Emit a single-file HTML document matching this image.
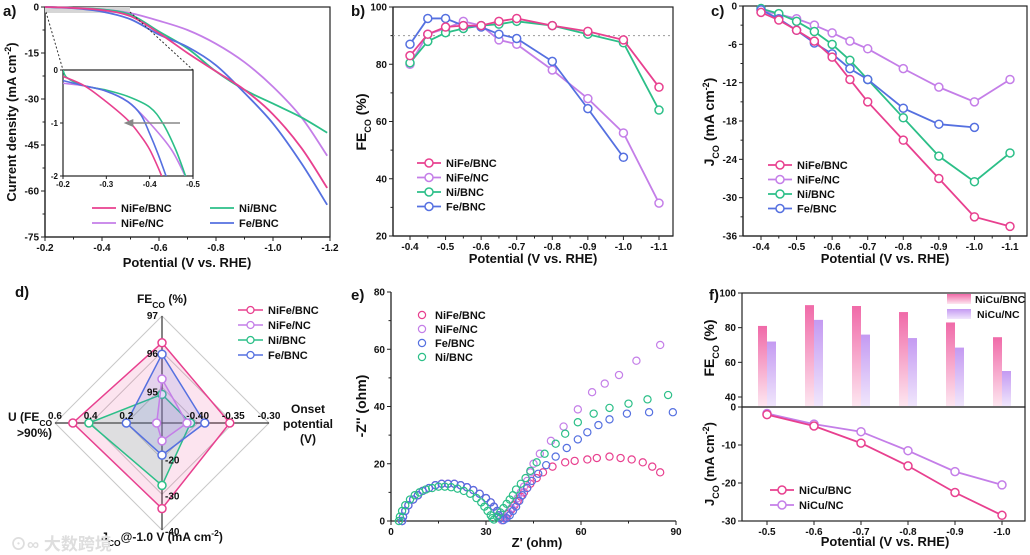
<!DOCTYPE html>
<html><head><meta charset="utf-8">
<style>
html,body{margin:0;padding:0;background:#fff;}
svg{display:block;font-family:"Liberation Sans",Arial,sans-serif;font-weight:bold;}
</style></head>
<body>
<svg id="fig" width="1030" height="555" viewBox="0 0 1030 555">
<defs>
<linearGradient id="gPink" x1="0" y1="0" x2="0" y2="1"><stop offset="0" stop-color="#f06aa8"/><stop offset="1" stop-color="#fde6f0"/></linearGradient>
<linearGradient id="gPurp" x1="0" y1="0" x2="0" y2="1"><stop offset="0" stop-color="#c49af2"/><stop offset="1" stop-color="#f0e6fc"/></linearGradient>
<clipPath id="insetClip"><rect x="63" y="70" width="130" height="106"/></clipPath>
</defs>
</svg>
<script>
// ---------- DATA ----------
const colors=['#e8408f','#c47ee8','#2cbf88','#5570e0'];
const names4=['NiFe/BNC','NiFe/NC','Ni/BNC','Fe/BNC'];
// panel a (LSV)
const aPot_pink=[-0.2,-0.3,-0.4,-0.5,-0.6,-0.7,-0.8,-0.9,-1.0,-1.1,-1.19];
const aJ_pink=[0,-0.3,-1,-3,-8.5,-15,-21,-27,-35,-46,-59];
const aPot_purp=[-0.2,-0.3,-0.4,-0.5,-0.6,-0.7,-0.8,-0.9,-1.0,-1.1,-1.19];
const aJ_purp=[0,-0.3,-0.8,-2,-4.5,-7.5,-12,-18,-26,-36,-48.5];
const aPot_green=[-0.2,-0.3,-0.4,-0.5,-0.6,-0.7,-0.8,-0.9,-1.0,-1.1,-1.19];
const aJ_green=[0,-0.3,-0.8,-2.5,-8,-13.5,-21,-27,-31.5,-36,-41];
const aPot_blue=[-0.2,-0.3,-0.4,-0.5,-0.6,-0.7,-0.8,-0.9,-1.0,-1.1,-1.19];
const aJ_blue=[0,-0.4,-1.5,-4,-9,-13,-19,-28,-38,-51,-64.5];
// inset
const iPot_pink=[-0.2,-0.25,-0.3,-0.35,-0.38,-0.4,-0.42,-0.43];
const iJ_pink=[-0.12,-0.3,-0.6,-0.95,-1.25,-1.5,-1.85,-2.05];
const iPot_purp=[-0.2,-0.25,-0.3,-0.35,-0.4,-0.45,-0.485];
const iJ_purp=[-0.25,-0.3,-0.4,-0.6,-1.0,-1.5,-2.05];
const iPot_green=[-0.2,-0.21,-0.25,-0.3,-0.35,-0.4,-0.43,-0.46,-0.485];
const iJ_green=[0,-0.15,-0.3,-0.38,-0.5,-0.7,-1.0,-1.5,-2.05];
const iPot_blue=[-0.2,-0.25,-0.3,-0.35,-0.38,-0.4,-0.42,-0.44];
const iJ_blue=[-0.2,-0.3,-0.4,-0.6,-0.85,-1.2,-1.6,-2.05];
// panel b/c
const bcPot=[-0.4,-0.45,-0.5,-0.55,-0.6,-0.65,-0.7,-0.8,-0.9,-1.0,-1.1];
const bFE_pink=[83,90.5,93,93.5,93.5,95,96,93.5,91.5,88.5,72];
const bFE_purp=[80,90.5,92.5,95,93.5,88.5,87,78,68,56,31.5];
const bFE_green=[80.5,88,91,92.5,93.5,94,95,93.5,90.5,87.5,64];
const bFE_blue=[87,96,96,93.5,93,90.5,89,81,64.5,47.5];
const cJ_pink=[-1,-2.2,-3.8,-5.5,-8,-11.5,-15,-21,-27,-33,-34.5];
const cJ_purp=[-0.7,-1.3,-2,-3,-4.2,-5.5,-6.7,-9.8,-12.7,-15,-11.5];
const cJ_green=[-0.4,-1.2,-2.4,-4,-6,-8.5,-11.5,-17.5,-23.5,-27.5,-23];
const cJ_blue=[-0.6,-2,-3.8,-5.8,-7.5,-9.8,-11.5,-16,-18.5,-19];
// panel d radar: FE, onset, Jco, U
const dFE=[96.3,95.35,94.95,96.0];
const dOnset=[-0.355,-0.415,-0.41,-0.39];
const dJ=[-34,-15,-27.5,-19];
const dU=[0.5,0.03,0.41,0.2];
// panel e Nyquist
const eX_pink=[3.5,3.8,4.5,5.5,7,8.5,10,12,14,16,18,20,22,24,26,28,30,31.5,32.5,33.5,34,34.5,35,36,37,38,39,40,41,42,43,44,46,48,51,55,58,62,65,69,72.5,76,79.5,82.5,85];
const eY_pink=[0,1.5,3.5,5.5,7.5,9,10.5,11.5,12.5,13,13,13,12.5,11.8,10.8,9.5,8,6.5,5,3.5,2,1,0.3,1,2.5,4,5.5,7,8.5,10,11.5,13,15,17,19,20.5,21,21.5,22,22.5,22,21.5,20.5,19,17];
const eX_purp=[3.5,3.8,4.5,5.5,7,8.5,10,12,14,16,18,20,22,24,26,28,30,31.5,32.5,33.5,34,34.5,35,36,37,38,39,40,41,42,43,44,45,47,50.5,54.5,59,63.5,67.5,72,77.5,85];
const eY_purp=[0,1.5,3.5,5.5,7.5,9,10.5,11.5,12.5,13,13,13,12.5,11.8,10.8,9.5,8,6.5,5,3.5,2,1,0.3,1.5,3,4.5,6,8,10,12,14,17,20,23.5,28,33,39,45,48,51,56,61.5];
const eX_blue=[3.5,3.8,4.5,5.5,7,8.5,10,12,14,16,18,20,22,24,26,28,30,31.5,32.5,33.5,34,34.5,35.5,36.5,37.5,38.5,39.5,40.5,41.5,43,44.5,46.5,49,52,55.5,59,62,65.5,69,74.5,81.5,89];
const eY_blue=[0,1.5,3.5,5.5,7.5,9,10.5,11.5,12.5,13,13,13,12.5,11.8,10.8,9.5,8,6.5,5,3.5,2,1,0.3,1,2,3.5,5,7,9,11.5,14,16.5,19.5,22.5,25.5,28.5,31,33.5,35.5,37.5,38,38];
const eX_green=[2.5,2.8,3.5,4.5,6,7.5,9,11,13,15,17,19,21,23,25,27,28.5,29.5,30.5,31.5,32,32.5,33.5,34.5,35.5,36.5,37.5,38.5,39.5,41,42.5,44,46,48.5,52,55,59,64,69,75,81,87.5];
const eY_green=[0,1.5,3.5,5.5,7.5,9,10,11,11.5,12,12,11.8,11.3,10.5,9.5,8,6.5,5,3.5,2,1,0.5,1.5,3,4.5,6,7.5,9,11,13,15,17.5,20.5,23.5,27,30.5,34.5,37.5,39.5,41,42.5,44];
const eNames=['NiFe/BNC','NiFe/NC','Fe/BNC','Ni/BNC'];
const eColors=['#e8408f','#c47ee8','#5570e0','#2cbf88'];
// panel f
const fPot=[-0.5,-0.6,-0.7,-0.8,-0.9,-1.0];
const fFE_bnc=[81,93,92.5,89,83,74.5];
const fFE_nc=[72,84.5,76,74,68.5,55];
const fJ_bnc=[-2,-5,-9.5,-15.5,-22.5,-28.5];
const fJ_nc=[-1.7,-4.5,-6.5,-11.5,-17,-20.5];

// ---------- HELPERS ----------
const NS='http://www.w3.org/2000/svg';
const svg=document.getElementById('fig');
function el(tag,attrs,parent){const e=document.createElementNS(NS,tag);for(const k in attrs)e.setAttribute(k,attrs[k]);(parent||svg).appendChild(e);return e;}
function lin(d0,d1,r0,r1){return v=>r0+(v-d0)*(r1-r0)/(d1-d0);}
function group(name){const g=el('g',{});return g;}
function text(g,x,y,s,size,anchor,name){const t=el('text',{x:x,y:y,'font-size':size,'text-anchor':anchor||'middle',fill:'#111'},g);t.textContent=s;return t;}
function fmt(v,d){return v.toFixed(d);}
function smoothPath(pts){
  let d='M'+pts[0][0]+','+pts[0][1];
  for(let i=0;i<pts.length-1;i++){
    const p0=pts[i-1]||pts[i],p1=pts[i],p2=pts[i+1],p3=pts[i+2]||p2;
    const c1=[p1[0]+(p2[0]-p0[0])/6,p1[1]+(p2[1]-p0[1])/6];
    const c2=[p2[0]-(p3[0]-p1[0])/6,p2[1]-(p3[1]-p1[1])/6];
    d+=' C'+c1[0]+','+c1[1]+' '+c2[0]+','+c2[1]+' '+p2[0]+','+p2[1];
  }
  return d;
}
function axes(g,L,R,T,B,sx,sy,xt,yt,xd,yd,xminor,yminor,box,fs){
  fs=fs||10;
  el('rect',{x:L,y:T,width:R-L,height:B-T,fill:'none',stroke:box?'#222':'none','stroke-width':1.2},g);
  el('line',{x1:L,y1:T,x2:L,y2:B,stroke:'#222','stroke-width':1.3},g);
  el('line',{x1:L,y1:B,x2:R,y2:B,stroke:'#222','stroke-width':1.3},g);
  xt.forEach(v=>{const x=sx(v);el('line',{x1:x,y1:B,x2:x,y2:B+4,stroke:'#222'},g);
    const t=text(g,x,B+14,fmt(v,xd),fs,'middle','x-tick-label');});
  (xminor||[]).forEach(v=>{const x=sx(v);el('line',{x1:x,y1:B,x2:x,y2:B+2.5,stroke:'#222'},g);});
  yt.forEach(v=>{const y=sy(v);el('line',{x1:L-4,y1:y,x2:L,y2:y,stroke:'#222'},g);
    text(g,L-6,y+3.5,fmt(v,yd),fs,'end','y-tick-label');});
  (yminor||[]).forEach(v=>{const y=sy(v);el('line',{x1:L-2.5,y1:y,x2:L,y2:y,stroke:'#222'},g);});
}
function rotLabel(g,x,y,parts,name,size){
  const t=el('text',{x:x,y:y,'font-size':size||13,'text-anchor':'middle',fill:'#111',transform:'rotate(-90 '+x+' '+y+')'},g);
  
  parts.forEach(p=>{const s=el('tspan',{},t);s.textContent=p[0];if(p[1])s.setAttribute('baseline-shift',p[1]);if(p[1])s.setAttribute('font-size','9');});
  return t;
}
function partsText(g,x,y,parts,size,anchor,name){
  const t=el('text',{x:x,y:y,'font-size':size,'text-anchor':anchor||'middle',fill:'#111'},g);
  
  parts.forEach(p=>{const s=el('tspan',{},t);s.textContent=p[0];if(p[1]){s.setAttribute('baseline-shift',p[1]);s.setAttribute('font-size','8.5');}});
  return t;
}
function markerSeries(g,xs,ys,sx,sy,color,name){
  const pts=xs.map((x,i)=>[sx(x),sy(ys[i])]);
  const pl=el('polyline',{points:pts.map(p=>p.join(',')).join(' '),fill:'none',stroke:color,'stroke-width':1.8},g);
  
  pts.forEach(p=>{const c=el('circle',{cx:p[0],cy:p[1],r:4,fill:'#fff',stroke:color,'stroke-width':1.5},g);
    });
}
function legendLM(g,x,y,color,label,name,marker){
  el('line',{x1:x,y1:y,x2:x+24,y2:y,stroke:color,'stroke-width':1.8},g);
  if(marker)el('circle',{cx:x+12,cy:y,r:4,fill:'#fff',stroke:color,'stroke-width':1.5},g);
  text(g,x+29,y+4,label,11,'start',name);
}

// ---------- PANEL A ----------
(function(){
  const g=group('panel-a');
  const sx=lin(-0.2,-1.2,45,330), sy=lin(0,-75,7,237);
  axes(g,45,330,7,237,sx,sy,[-0.2,-0.4,-0.6,-0.8,-1.0,-1.2],[0,-15,-30,-45,-60,-75],1,0,[-0.3,-0.5,-0.7,-0.9,-1.1],[-7.5,-22.5,-37.5,-52.5,-67.5],true);
  el('rect',{x:45,y:7,width:85,height:6,fill:'#d6d6d6'},g);
  const A=[[aPot_pink,aJ_pink],[aPot_purp,aJ_purp],[aPot_green,aJ_green],[aPot_blue,aJ_blue]];
  [1,2,3,0].forEach(i=>{const p=el('path',{d:smoothPath(A[i][0].map((x,k)=>[sx(x),sy(A[i][1][k])])),fill:'none',stroke:colors[i],'stroke-width':1.8},g);
    });
  el('line',{x1:46,y1:12,x2:63,y2:70,stroke:'#333','stroke-dasharray':'2,2'},g);
  el('line',{x1:130,y1:12,x2:193,y2:70,stroke:'#333','stroke-dasharray':'2,2'},g);
  // inset
  const ix=lin(-0.2,-0.5,63,193), iy=lin(0,-2,70,176);
  el('rect',{x:63,y:70,width:130,height:106,fill:'#fff',stroke:'#222','stroke-width':1.2},g);
  [-0.2,-0.3,-0.4,-0.5].forEach(v=>{el('line',{x1:ix(v),y1:176,x2:ix(v),y2:179,stroke:'#222'},g);text(g,ix(v),187,v.toFixed(1),8,'middle','inset-x-tick');});
  [0,-1,-2].forEach(v=>{el('line',{x1:60,y1:iy(v),x2:63,y2:iy(v),stroke:'#222'},g);text(g,58,iy(v)+3,String(v),8,'end','inset-y-tick');});
  const ig=el('g',{'clip-path':'url(#insetClip)'},g);
  const I=[[iPot_pink,iJ_pink],[iPot_purp,iJ_purp],[iPot_green,iJ_green],[iPot_blue,iJ_blue]];
  [1,2,3,0].forEach(i=>{const p=el('path',{d:smoothPath(I[i][0].map((x,k)=>[ix(x),iy(I[i][1][k])])),fill:'none',stroke:colors[i],'stroke-width':1.6},ig);
    });
  el('line',{x1:ix(-0.47),y1:iy(-1),x2:ix(-0.35),y2:iy(-1),stroke:'#888','stroke-width':1.5},g);
  el('polygon',{points:[ix(-0.34),iy(-1),ix(-0.36)+1,iy(-1)-4,ix(-0.36)+1,iy(-1)+4].join(','),fill:'#888'},g);
  legendLM(g,92,208,colors[0],'NiFe/BNC','legend-nife-bnc');
  legendLM(g,210,208,colors[2],'Ni/BNC','legend-ni-bnc');
  legendLM(g,92,223,colors[1],'NiFe/NC','legend-nife-nc');
  legendLM(g,210,223,colors[3],'Fe/BNC','legend-fe-bnc');
  text(g,187,267,'Potential (V vs. RHE)',13,'middle','x-axis-title');
  rotLabel(g,16,122,[['Current density (mA cm'],['-2','super'],[')']],'y-axis-title');
  text(g,3,16,'a)',15,'start','panel-label-a');
})();

// ---------- PANEL B ----------
(function(){
  const g=group('panel-b');
  const sx=lin(-0.4,-1.1,410,659), sy=lin(100,20,7,236);
  axes(g,393,673,7,236,sx,sy,[-0.4,-0.5,-0.6,-0.7,-0.8,-0.9,-1.0,-1.1],[20,40,60,80,100],1,0,[-0.45,-0.55,-0.65,-0.75,-0.85,-0.95,-1.05],[30,50,70,90],true);
  el('line',{x1:393,y1:sy(90),x2:673,y2:sy(90),stroke:'#999','stroke-dasharray':'2,3'},g);
  const B=[bFE_pink,bFE_purp,bFE_green,bFE_blue];
  [1,2,3,0].forEach(i=>markerSeries(g,bcPot.slice(0,B[i].length),B[i],sx,sy,colors[i],'fe-'+names4[i].toLowerCase().replace('/','-')));
  names4.forEach((n,i)=>legendLM(g,417,163+i*14.5,colors[i],n,'legend-b-'+i,true));
  text(g,533,263,'Potential (V vs. RHE)',13,'middle','x-axis-title');
  rotLabel(g,366,122,[['FE'],['CO','sub'],[' (%)']],'y-axis-title',14);
  text(g,351,16,'b)',15,'start','panel-label-b');
})();

// ---------- PANEL C ----------
(function(){
  const g=group('panel-c');
  const sx=lin(-0.4,-1.1,761,1010), sy=lin(0,-36,6,236);
  axes(g,743,1027,6,236,sx,sy,[-0.4,-0.5,-0.6,-0.7,-0.8,-0.9,-1.0,-1.1],[0,-6,-12,-18,-24,-30,-36],1,0,[-0.45,-0.55,-0.65,-0.75,-0.85,-0.95,-1.05],[-3,-9,-15,-21,-27,-33],true);
  const C=[cJ_pink,cJ_purp,cJ_green,cJ_blue];
  [1,2,3,0].forEach(i=>markerSeries(g,bcPot.slice(0,C[i].length),C[i],sx,sy,colors[i],'jco-'+names4[i].toLowerCase().replace('/','-')));
  names4.forEach((n,i)=>legendLM(g,768,165+i*14.5,colors[i],n,'legend-c-'+i,true));
  text(g,885,263,'Potential (V vs. RHE)',13,'middle','x-axis-title');
  rotLabel(g,714,122,[['J'],['CO','sub'],[' (mA cm'],['-2','super'],[')']],'y-axis-title',14);
  text(g,711,16,'c)',15,'start','panel-label-c');
})();

// ---------- PANEL D (radar) ----------
(function(){
  const g=group('panel-d');
  const cx=162, cy=423, R=107;
  const rFE=lin(94.2,97,0,R), rOn=lin(-0.45,-0.30,0,R), rJ=lin(-10,-40,0,R), rU=lin(0,0.6,0,R);
  [1/3,2/3,1].forEach(f=>{const r=R*f;el('polygon',{points:[cx,cy-r,cx+r,cy,cx,cy+r,cx-r,cy].join(','),fill:'none',stroke:'#c8c8c8','stroke-width':1},g);});
  el('line',{x1:cx,y1:cy-R,x2:cx,y2:cy+R,stroke:'#333','stroke-width':1.2},g);
  el('line',{x1:cx-R,y1:cy,x2:cx+R,y2:cy,stroke:'#333','stroke-width':1.2},g);
  const order=[0,2,3,1];
  order.forEach(i=>{
    const pts=[[cx,cy-rFE(dFE[i])],[cx+rOn(dOnset[i]),cy],[cx,cy+rJ(dJ[i])],[cx-rU(dU[i]),cy]];
    const p=el('polygon',{points:pts.map(q=>q.join(',')).join(' '),fill:colors[i],'fill-opacity':0.14,stroke:colors[i],'stroke-width':1.5},g);
    
    pts.forEach(q=>{const c=el('circle',{cx:q[0],cy:q[1],r:4,fill:'#fff',stroke:colors[i],'stroke-width':1.5},g);});
  });
  [95,96,97].forEach(v=>text(g,cx-4,cy-rFE(v)+3,String(v),10,'end','fe-tick'));
  [-0.40,-0.35,-0.30].forEach(v=>text(g,cx+rOn(v),cy-4,v.toFixed(2),10,'middle','onset-tick'));
  [-20,-30,-40].forEach(v=>text(g,cx+3,cy+rJ(v)+5,String(v),10,'start','jco-tick'));
  [0.2,0.4,0.6].forEach(v=>text(g,cx-rU(v),cy-4,v.toFixed(1),10,'middle','u-tick'));
  partsText(g,162,303,[['FE'],['CO','sub'],[' (%)']],12,'middle','fe-axis-title');
  text(g,308,413,'Onset',12,'middle','onset-axis-title');
  text(g,308,428,'potential',12,'middle','onset-axis-title');
  text(g,308,443,'(V)',12,'middle','onset-axis-title');
  partsText(g,8,421,[['U (FE'],['CO','sub']],12,'start','u-axis-title');
  text(g,17,437,'>90%)',12,'start','u-axis-title');
  partsText(g,162,541,[['J'],['CO','sub'],['@-1.0 V (mA cm'],['-2','super'],[')']],12,'middle','jco-axis-title');
  names4.forEach((n,i)=>{const y=310+i*15;el('line',{x1:238,y1:y,x2:263,y2:y,stroke:colors[i],'stroke-width':1.5},g);el('circle',{cx:250.5,cy:y,r:3.5,fill:'#fff',stroke:colors[i],'stroke-width':1.3},g);text(g,268,y+4,n,11,'start','legend-d-'+i);});
  text(g,15,297,'d)',15,'start','panel-label-d');
  const w=text(g,10,550,'⊙∞ 大数跨境',17,'start','watermark');
  w.setAttribute('fill','#dedede');w.setAttribute('font-family','"Liberation Sans","Noto Sans CJK SC",sans-serif');
})();

// ---------- PANEL E ----------
(function(){
  const g=group('panel-e');
  const sx=lin(0,90,391,676), sy=lin(0,80,521,292);
  axes(g,391,676,292,521,sx,sy,[0,30,60,90],[0,20,40,60,80],0,0,[15,45,75],[10,30,50,70],false);
  const E=[[eX_pink,eY_pink],[eX_purp,eY_purp],[eX_blue,eY_blue],[eX_green,eY_green]];
  E.forEach((s,i)=>s[0].forEach((x,k)=>{const c=el('circle',{cx:sx(x),cy:sy(s[1][k]),r:3.6,fill:'none',stroke:eColors[i],'stroke-width':1.2},g);
    }));
  eNames.forEach((n,i)=>{const y=315+i*14;el('circle',{cx:422,cy:y,r:3.6,fill:'none',stroke:eColors[i],'stroke-width':1.2},g);text(g,435,y+4,n,11,'start','legend-e-'+i);});
  text(g,537,547,"Z' (ohm)",13,'middle','x-axis-title');
  rotLabel(g,366,406,[["-Z'' (ohm)"]],'y-axis-title',14);
  text(g,351,300,'e)',15,'start','panel-label-e');
})();

// ---------- PANEL F ----------
(function(){
  const g=group('panel-f');
  const sx=lin(-0.5,-1.0,767,1002);
  const syT=lin(100,40,293,397), syB=lin(0,-30,407,521);
  el('rect',{x:742,y:293,width:283,height:114,fill:'none',stroke:'#222','stroke-width':1.2},g);
  el('rect',{x:742,y:407,width:283,height:114,fill:'none',stroke:'#222','stroke-width':1.2},g);
  [40,60,80,100].forEach(v=>{el('line',{x1:738,y1:syT(v),x2:742,y2:syT(v),stroke:'#222'},g);text(g,736,syT(v)+3.5,String(v),10,'end','top-y-tick');});
  [0,-10,-20,-30].forEach(v=>{el('line',{x1:738,y1:syB(v),x2:742,y2:syB(v),stroke:'#222'},g);text(g,736,syB(v)+3.5,String(v),10,'end','bottom-y-tick');});
  fPot.forEach(v=>{el('line',{x1:sx(v),y1:521,x2:sx(v),y2:525,stroke:'#222'},g);text(g,sx(v),535,v.toFixed(1),10,'middle','x-tick-label');});
  const base=406;
  fPot.forEach((v,i)=>{
    const b1=el('rect',{x:sx(v)-9,y:syT(fFE_bnc[i]),width:9,height:base-syT(fFE_bnc[i]),fill:'url(#gPink)'},g);
    
    const b2=el('rect',{x:sx(v),y:syT(fFE_nc[i]),width:9,height:base-syT(fFE_nc[i]),fill:'url(#gPurp)'},g);
    
  });
  el('rect',{x:947,y:294,width:24,height:10,fill:'url(#gPink)'},g);text(g,975,303,'NiCu/BNC',10.5,'start','legend-f-bnc');
  el('rect',{x:947,y:309,width:24,height:10,fill:'url(#gPurp)'},g);text(g,977,318,'NiCu/NC',10.5,'start','legend-f-nc');
  markerSeries(g,fPot,fJ_nc,sx,syB,'#c47ee8','jco-nicu-nc');
  markerSeries(g,fPot,fJ_bnc,sx,syB,'#e8408f','jco-nicu-bnc');
  legendLM(g,770,490,'#e8408f','NiCu/BNC','legend-f-line-bnc',true);
  legendLM(g,770,505,'#c47ee8','NiCu/NC','legend-f-line-nc',true);
  text(g,885,546,'Potential (V vs. RHE)',13,'middle','x-axis-title');
  rotLabel(g,714,348,[['FE'],['CO','sub'],[' (%)']],'top-y-axis-title',14);
  rotLabel(g,714,464,[['J'],['CO','sub'],[' (mA cm'],['-2','super'],[')']],'bottom-y-axis-title',13);
  text(g,709,300,'f)',15,'start','panel-label-f');
})();
</script>
</body></html>
